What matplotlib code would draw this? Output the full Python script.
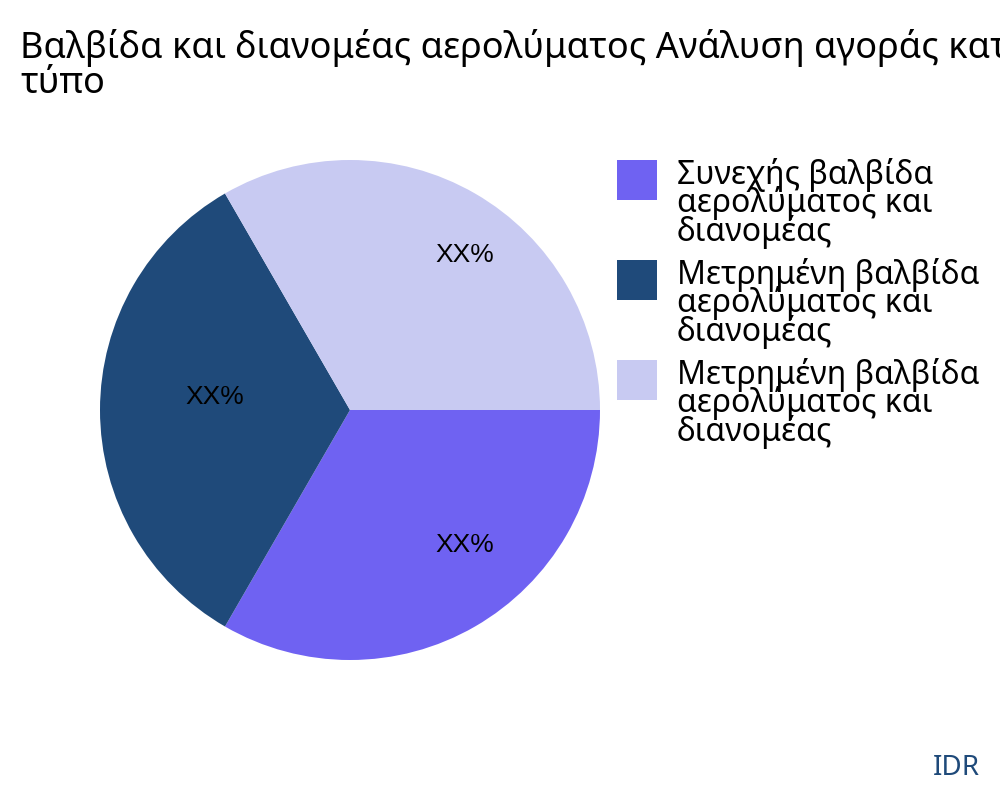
import matplotlib
matplotlib.use("Agg")
import matplotlib.pyplot as plt
from matplotlib.patches import Rectangle

categories = ["Συνεχής βαλβίδα\nαερολύματος και\nδιανομέας",
              "Μετρημένη βαλβίδα\nαερολύματος και\nδιανομέας",
              "Μετρημένη βαλβίδα\nαερολύματος και\nδιανομέας"]
values = [1, 1, 1]
pct_labels = ["XX%", "XX%", "XX%"]
colors = ["#6f62f2", "#1f4a7a", "#c8caf2"]
title = "Βαλβίδα και διανομέας αερολύματος Ανάλυση αγοράς κατά\nτύπο"

plt.rcParams['font.family'] = ['Noto Sans', 'DejaVu Sans']
fig = plt.figure(figsize=(10, 8), dpi=100)
ax = fig.add_axes([0.1, 0.175, 0.5, 0.625])
wedges, texts = ax.pie(values, colors=colors, startangle=0, counterclock=False,
                       radius=1.0)
label_pos = [(0.46, -0.54), (-0.54, 0.05), (0.46, 0.62)]
for (x, y), lab in zip(label_pos, pct_labels):
    ax.text(x, y, lab, ha='center', va='center',
            fontsize=19, family=['Liberation Sans'], color='black')
ax.set_xlim(-1, 1); ax.set_ylim(-1, 1)
ax.set_aspect('equal')

fig.text(0.02, 0.918, title, fontsize=26, ha='left', va='center', linespacing=0.95)

# manual legend
for i, (w, lab) in enumerate(zip(wedges, categories)):
    top = 0.80 - i * 0.125
    fig.patches.append(Rectangle((0.617, top - 0.05), 0.04, 0.05,
                                 transform=fig.transFigure,
                                 facecolor=w.get_facecolor(), edgecolor='none'))
    fig.text(0.677, top + 0.003, lab, fontsize=23, ha='left', va='top',
             linespacing=0.8)
fig.text(0.98, 0.04, "IDR", fontsize=20, color="#1f4a7a", ha='right', va='center')
fig.savefig("out.png", dpi=100)
